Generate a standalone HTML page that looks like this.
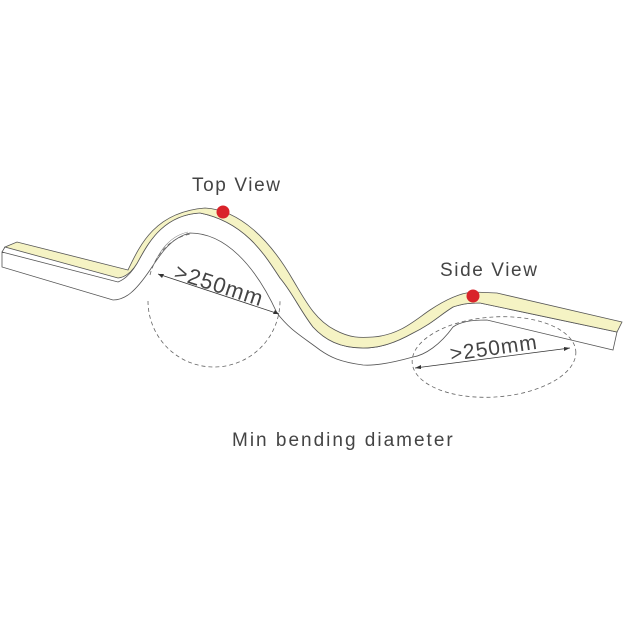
<!DOCTYPE html>
<html><head><style>
html,body{margin:0;padding:0;background:#fff;width:625px;height:619px;overflow:hidden}
svg{display:block}
text{font-family:"Liberation Sans",sans-serif;fill:#444}
</style></head><body>
<svg width="625" height="619" viewBox="0 0 625 619" xmlns="http://www.w3.org/2000/svg">
<!-- white side face -->
<path d="M2,252 L118,282 C128,278 135,268 140,258 C150,240 165,215 200,213 C245,222 265,255 280,278 C292,292 300,310 313,327 C325,340 340,348 363,348 C380,348 395,343 413,333 C430,325 440,315 453,307 C462,304 468,303 480,303 L617,332 L613,350 L487,320 C470,320 460,322 453,327 C440,345 425,355 413,357 C395,362 375,366 363,365 C340,362 330,357 320,350 C300,335 290,330 277,313 C255,265 225,233 190,233 C170,238 160,255 150,270 C135,292 125,300 113,300 L2,267 Z" fill="#fff" stroke="#555" stroke-width="0.8"/>
<!-- yellow top face -->
<path d="M5,247 L17,242 L128,270 C140,245 155,212 205,208 C240,210 270,240 293,280 C305,300 315,320 335,330 C350,338 360,338 373,337 C400,335 415,320 430,310 C445,300 460,293 473,292 L497,293 L622,322 L617,332 L480,303 C468,303 462,304 453,307 C440,315 430,325 413,333 C395,343 380,348 363,348 C340,348 325,340 313,327 C300,310 292,292 280,278 C265,255 245,222 200,213 C165,215 150,240 140,258 C135,268 128,277 118,278 Z" fill="#f5f3c4" stroke="#555" stroke-width="0.8"/>
<path d="M2,252 L5,247" stroke="#555" stroke-width="0.8" fill="none"/>
<!-- inner bend lines -->
<path d="M152,268 C160,250 170,236 188,232" stroke="#888" stroke-width="0.6" fill="none"/>
<!-- dashed circles -->
<path d="M148,301 A66,66 0 0 0 280,301" fill="none" stroke="#666" stroke-width="0.8" stroke-dasharray="4,3"/>
<path d="M150,275 C155,255 170,238 190,234" fill="none" stroke="#666" stroke-width="0.8" stroke-dasharray="4,3"/>
<ellipse cx="494" cy="357" rx="82" ry="40" transform="rotate(-4 494 357)" fill="none" stroke="#666" stroke-width="0.8" stroke-dasharray="4,3"/>
<!-- dimension arrows -->
<line x1="158" y1="274" x2="279" y2="314" stroke="#333" stroke-width="0.8"/>
<path d="M158,274 l6,0 l-2,4 z M279,314 l-6,0 l2,-4 z" fill="#333"/>
<line x1="415" y1="368" x2="570" y2="348" stroke="#333" stroke-width="0.8"/>
<path d="M415,368 l6,-3 l0,4 z M570,348 l-6,3 l0,-4 z" fill="#333"/>
<text x="0" y="0" font-size="22" letter-spacing="1" transform="translate(173,278) rotate(18)">&gt;250mm</text>
<text x="0" y="0" font-size="21" letter-spacing="1" transform="translate(451,361) rotate(-8)">&gt;250mm</text>
<!-- dots -->
<circle cx="223" cy="212" r="6.5" fill="#d9232a"/>
<circle cx="473" cy="296" r="6.5" fill="#d9232a"/>
<!-- labels -->
<text x="192" y="191" font-size="19" letter-spacing="1.6">Top View</text>
<text x="440" y="276" font-size="19" letter-spacing="1.6">Side View</text>
<text x="232" y="446" font-size="19" letter-spacing="2">Min bending diameter</text>
</svg>
</body></html>
